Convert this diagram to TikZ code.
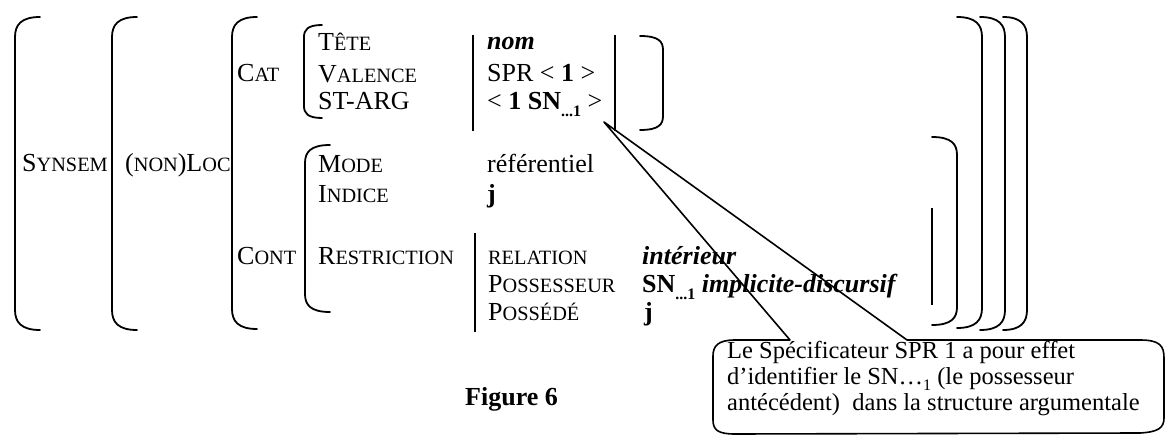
\documentclass[tikz,border=0pt]{standalone}
\usepackage{fontspec}
\setmainfont{Liberation Serif}
\newcommand\sk[1]{{\fontsize{20.3}{22}\selectfont #1}}
\newcommand\sbs[1]{\raisebox{-0.25em}{\fontsize{16}{16}\selectfont #1}}
\newcommand\lbrk[5]{\draw[brk] (#2,#3) .. controls (#1+0.3*#5,#3) and (#1,#3+0.4*#5) .. (#1,#3+#5) -- (#1,#4-#5) .. controls (#1,#4-0.4*#5) and (#1+0.3*#5,#4) .. (#2,#4);}
\newcommand\rbrk[5]{\draw[brk] (#2,#3) .. controls (#1-0.3*#5,#3) and (#1,#3+0.4*#5) .. (#1,#3+#5) -- (#1,#4-#5) .. controls (#1,#4-0.4*#5) and (#1-0.3*#5,#4) .. (#2,#4);}
\begin{document}
\begin{tikzpicture}[x=1pt,y=-1pt,
  brk/.style={line width=1.8pt, line cap=round},
  bar/.style={line width=1.6pt},
  t/.style={anchor=base west, inner sep=0pt, font=\fontsize{26}{30}\selectfont}]
\useasboundingbox (0,0) rectangle (1167,435);
% left brackets
\lbrk{15}{40}{17}{330}{20}
\lbrk{112}{137}{17}{330}{20}
\lbrk{232}{257}{17}{329}{20}
\lbrk{304}{322}{25}{118}{12}
\lbrk{305}{330}{145}{312}{18}
% right brackets
\rbrk{663}{640}{36}{130}{14}
\rbrk{957}{932}{137}{325}{18}
\rbrk{982}{957}{17}{328}{20}
\rbrk{1005}{980}{17}{330}{20}
\rbrk{1027}{1003}{17}{330}{20}
% vertical bars
\draw[bar] (473,35) -- (473,131);
\draw[bar] (615,35) -- (615,131);
\draw[bar] (475,233) -- (475,332);
\draw[bar] (932,208) -- (932,305);
% texts
\node[t] (synsem) at (22,172) {S\sk{YNSEM}};
\node[t] (nonloc) at (125,172) {(\sk{NON})L\sk{OC}};
\node[t] (cat) at (237,82) {C\sk{AT}};
\node[t] (cont) at (237,265) {C\sk{ONT}};
\node[t] (tete) at (318,51) {T\sk{ÊTE}};
\node[t] (valence) at (318,83) {V\sk{ALENCE}};
\node[t] (starg) at (318,110) {ST-ARG};
\node[t] (nom) at (487,50) {\textbf{\textit{nom}}};
\node[t] (spr) at (487,82) {SPR < \textbf{1} >};
\node[t] (stargv) at (487,110) {< \textbf{1 SN\sbs{...1}} >};
\node[t] (mode) at (318,173) {M\sk{ODE}};
\node[t] (indice) at (318,203) {I\sk{NDICE}};
\node[t] (ref) at (487,173) {référentiel};
\node[t] (jj) at (487,203) {\textbf{j}};
\node[t] (restr) at (318,265) {R\sk{ESTRICTION}};
\node[t] (rel) at (488,265) {\sk{RELATION}};
\node[t] (poss) at (488,293) {P\sk{OSSESSEUR}};
\node[t] (posse) at (488,321) {P\sk{OSSÉDÉ}};
\node[t] (interieur) at (642,265) {\textbf{\textit{intérieur}}};
\node[t] (sn) at (642,293) {\textbf{SN\sbs{...1} \textit{implicite-discursif}}};
\node[t] (j2) at (644,321) {\textbf{j}};
\node[t] (fig) at (465,405) {\textbf{Figure 6}};
% callout
\node[anchor=base west, inner sep=0pt, align=left, font=\fontsize{24.5}{26}\selectfont] (note) at (727,410)
  {Le Spécificateur SPR 1 a pour effet\\d'identifier le SN…\sbs{1} (le possesseur\\antécédent)\ \ dans la structure argumentale};
\coordinate (tip) at (604,122);
\draw[line width=1.6pt, line join=round]
  (790,340) -- (tip) -- (907,340) -- (1140,340)
  .. controls (1160,340) and (1164,346) .. (1164,358) -- (1164,418)
  .. controls (1164,428) and (1158,432) .. (1140,433) -- (735,434)
  .. controls (718,434) and (713,430) .. (713,420) -- (713,356)
  .. controls (713,346) and (718,340) .. (735,340) -- cycle;
\end{tikzpicture}
\end{document}
